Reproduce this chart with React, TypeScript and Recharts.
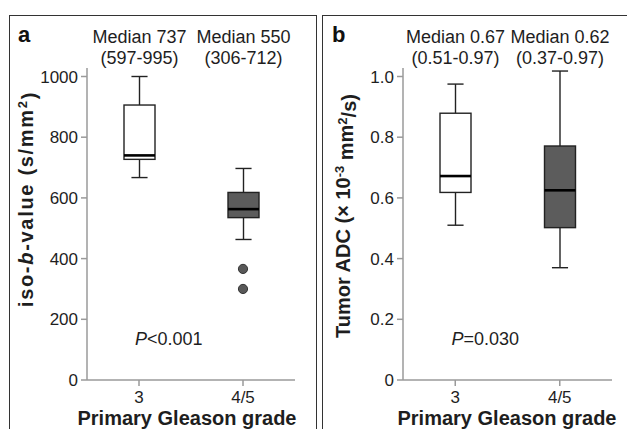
import React from 'react';
import { ComposedChart, Bar, Scatter, XAxis, YAxis, LabelList } from 'recharts';

// ---------- data ----------
const categories = ['3', '4/5'];

// panel a: iso-b-value (s/mm2)
const isoMin = [667, 463];
const isoQ1 = [727, 535];
const isoMedian = [740, 563];
const isoQ3 = [906, 618];
const isoMax = [1000, 697];
const isoOutliers = [366, 300]; // both in grade 4/5
const isoOutlierCats = ['4/5', '4/5'];
const isoMedianLabels = ['Median 737', 'Median 550'];
const isoRangeLabels = ['(597-995)', '(306-712)'];
const isoTicks = [0, 200, 400, 600, 800, 1000];

// panel b: tumor ADC (x10^-3 mm2/s)
const adcMin = [0.51, 0.37];
const adcQ1 = [0.618, 0.502];
const adcMedian = [0.672, 0.625];
const adcQ3 = [0.879, 0.771];
const adcMax = [0.975, 1.018];
const adcMedianLabels = ['Median 0.67', 'Median 0.62'];
const adcRangeLabels = ['(0.51-0.97)', '(0.37-0.97)'];
const adcTicks = [0, 0.2, 0.4, 0.6, 0.8, 1.0];

// ---------- styles ----------
const FONT = '"Liberation Sans", Arial, Helvetica, sans-serif';
const TEXT = '#1e1e1e';
const AXIS = '#9a9a9a';
const BOX_STROKE = '#222';
const boxFills = ['#ffffff', '#5c5c5c'];

const buildRows = (mn, q1, md, q3, mx) =>
  categories.map((c, i) => ({
    cat: c,
    range: [mn[i], mx[i]],
    min: mn[i],
    q1: q1[i],
    med: md[i],
    q3: q3[i],
    max: mx[i],
  }));

const isoRows = buildRows(isoMin, isoQ1, isoMedian, isoQ3, isoMax);
const adcRows = buildRows(adcMin, adcQ1, adcMedian, adcQ3, adcMax);
const isoOutlierRows = isoOutliers.map((v, i) => ({ cat: isoOutlierCats[i], v }));

const BoxShape = (props: any) => {
  const { x, y, width, height, payload, index } = props;
  if (!payload || [x, y, width, height].some((n) => typeof n !== 'number' || isNaN(n))) return null;
  const { min, q1, med, q3, max } = payload;
  const span = max - min;
  const py = (v: number) => y + ((max - v) / span) * height;
  const cx = x + width / 2;
  const cap = width * 0.26;
  const sw = 1.4;
  return (
    <g>
      <line x1={cx} x2={cx} y1={py(max)} y2={py(q3)} stroke={BOX_STROKE} strokeWidth={sw} />
      <line x1={cx} x2={cx} y1={py(q1)} y2={py(min)} stroke={BOX_STROKE} strokeWidth={sw} />
      <line x1={cx - cap} x2={cx + cap} y1={py(max)} y2={py(max)} stroke={BOX_STROKE} strokeWidth={sw} />
      <line x1={cx - cap} x2={cx + cap} y1={py(min)} y2={py(min)} stroke={BOX_STROKE} strokeWidth={sw} />
      <rect
        x={x}
        y={py(q3)}
        width={width}
        height={py(q1) - py(q3)}
        fill={boxFills[index % boxFills.length]}
        stroke={BOX_STROKE}
        strokeWidth={sw}
      />
      <line x1={x} x2={x + width} y1={py(med)} y2={py(med)} stroke="#000" strokeWidth={2.6} />
    </g>
  );
};

const OutlierShape = (props: any) => {
  const { cx, cy } = props;
  if (typeof cx !== 'number' || typeof cy !== 'number' || isNaN(cx) || isNaN(cy)) return null;
  return <circle cx={cx} cy={cy} r={4.6} fill="#585858" stroke="#333" strokeWidth={1} />;
};

const makeMedianLabel = (line1: string[], line2: string[]) => (props: any) => {
  const vb = props.viewBox && typeof props.viewBox.x === 'number' ? props.viewBox : props;
  const cx = vb.x + vb.width / 2;
  const i = props.index ?? 0;
  return (
    <g>
      <text x={cx} y={42.5} textAnchor="middle" fontFamily={FONT} fontSize={18} fill={TEXT}>
        {line1[i]}
      </text>
      <text x={cx} y={63.5} textAnchor="middle" fontFamily={FONT} fontSize={18} fill={TEXT}>
        {line2[i]}
      </text>
    </g>
  );
};

const xTitle = (dx: number) => () =>
  (
    <text x={191 + dx} y={425} textAnchor="middle" fontFamily={FONT} fontSize={20} fontWeight="bold" fill={TEXT}>
      Primary Gleason grade
    </text>
  );

const isoYTitle = () => (
  <text
    x={26}
    y={199}
    dy="0.35em"
    transform="rotate(-90 26 199)"
    textAnchor="middle"
    fontFamily={FONT}
    fontSize={20}
    fontWeight="bold"
    letterSpacing={1.7}
    fill={TEXT}
  >
    iso-<tspan fontStyle="italic">b</tspan>-value (s/mm<tspan dy="-0.45em" fontSize={13}>2</tspan>
    <tspan dy="0.45em">)</tspan>
  </text>
);

const adcYTitle = () => (
  <text
    x={27}
    y={216}
    dy="0.35em"
    transform="rotate(-90 27 216)"
    textAnchor="middle"
    fontFamily={FONT}
    fontSize={20}
    fontWeight="bold"
    fill={TEXT}
  >
    Tumor ADC (× 10<tspan dy="-0.45em" fontSize={13}>-3</tspan>
    <tspan dy="0.45em"> mm</tspan>
    <tspan dy="-0.45em" fontSize={13}>2</tspan>
    <tspan dy="0.45em">/s)</tspan>
  </text>
);

const tickStyle = { fontSize: 17, fontFamily: FONT, fill: TEXT };

export default function App() {
  return (
    <div style={{ position: 'absolute', left: 0, top: 0, width: 627, height: 429, overflow: 'hidden', background: '#fff' }}>
      {/* panel frames */}
      <div
        style={{
          position: 'absolute',
          left: 8.5,
          top: 14.5,
          width: 308,
          height: 440,
          border: '1.6px solid #333',
          borderBottom: 'none',
          boxSizing: 'border-box',
        }}
      />
      <div
        style={{
          position: 'absolute',
          left: 322,
          top: 14.5,
          width: 340,
          height: 440,
          border: '1.6px solid #333',
          borderBottom: 'none',
          boxSizing: 'border-box',
        }}
      />

      {/* panel a */}
      <div style={{ position: 'absolute', left: 0, top: 0 }}>
        <ComposedChart width={320} height={429} data={isoRows} margin={{ top: 68, right: 25, bottom: 0, left: 0 }}>
          <XAxis
            dataKey="cat"
            type="category"
            allowDuplicatedCategory={false}
            height={49}
            tick={tickStyle}
            tickMargin={5}
            tickSize={6}
            axisLine={{ stroke: AXIS, strokeWidth: 1.5 }}
            tickLine={{ stroke: AXIS, strokeWidth: 1.5 }}
            label={xTitle(-4)}
          />
          <YAxis
            type="number"
            domain={[0, 1028]}
            ticks={isoTicks}
            width={87}
            tick={tickStyle}
            tickMargin={3}
            tickSize={6}
            axisLine={{ stroke: AXIS, strokeWidth: 1.5 }}
            tickLine={{ stroke: AXIS, strokeWidth: 1.5 }}
            label={isoYTitle}
          />
          <Bar dataKey="range" barSize={31} shape={BoxShape} isAnimationActive={false}>
            <LabelList dataKey="cat" content={makeMedianLabel(isoMedianLabels, isoRangeLabels)} />
          </Bar>
          <Scatter data={isoOutlierRows} dataKey="v" shape={OutlierShape} isAnimationActive={false} />
        </ComposedChart>
      </div>

      {/* panel b */}
      <div style={{ position: 'absolute', left: 316, top: 0 }}>
        <ComposedChart width={321} height={429} data={adcRows} margin={{ top: 68, right: 25, bottom: 0, left: 0 }}>
          <XAxis
            dataKey="cat"
            type="category"
            height={49}
            tick={tickStyle}
            tickMargin={5}
            tickSize={6}
            axisLine={{ stroke: AXIS, strokeWidth: 1.5 }}
            tickLine={{ stroke: AXIS, strokeWidth: 1.5 }}
            label={xTitle(0)}
          />
          <YAxis
            type="number"
            domain={[0, 1.028]}
            ticks={adcTicks}
            width={87}
            tick={tickStyle}
            tickMargin={3}
            tickSize={6}
            tickFormatter={(v: number) => (v === 0 ? '0' : v.toFixed(1))}
            axisLine={{ stroke: AXIS, strokeWidth: 1.5 }}
            tickLine={{ stroke: AXIS, strokeWidth: 1.5 }}
            label={adcYTitle}
          />
          <Bar dataKey="range" barSize={31} shape={BoxShape} isAnimationActive={false}>
            <LabelList dataKey="cat" content={makeMedianLabel(adcMedianLabels, adcRangeLabels)} />
          </Bar>
        </ComposedChart>
      </div>

      {/* panel letters and p-values */}
      <svg width={627} height={429} style={{ position: 'absolute', left: 0, top: 0, pointerEvents: 'none' }}>
        <text x={18} y={42} fontFamily={FONT} fontSize={22} fontWeight="bold" fill="#111">a</text>
        <text x={332} y={42} fontFamily={FONT} fontSize={22} fontWeight="bold" fill="#111">b</text>
        <text x={135} y={344.5} fontFamily={FONT} fontSize={18} fill={TEXT}>
          <tspan fontStyle="italic">P</tspan>{'<0.001'}
        </text>
        <text x={451.5} y={344.5} fontFamily={FONT} fontSize={18} fill={TEXT}>
          <tspan fontStyle="italic">P</tspan>=0.030
        </text>
      </svg>
    </div>
  );
}
